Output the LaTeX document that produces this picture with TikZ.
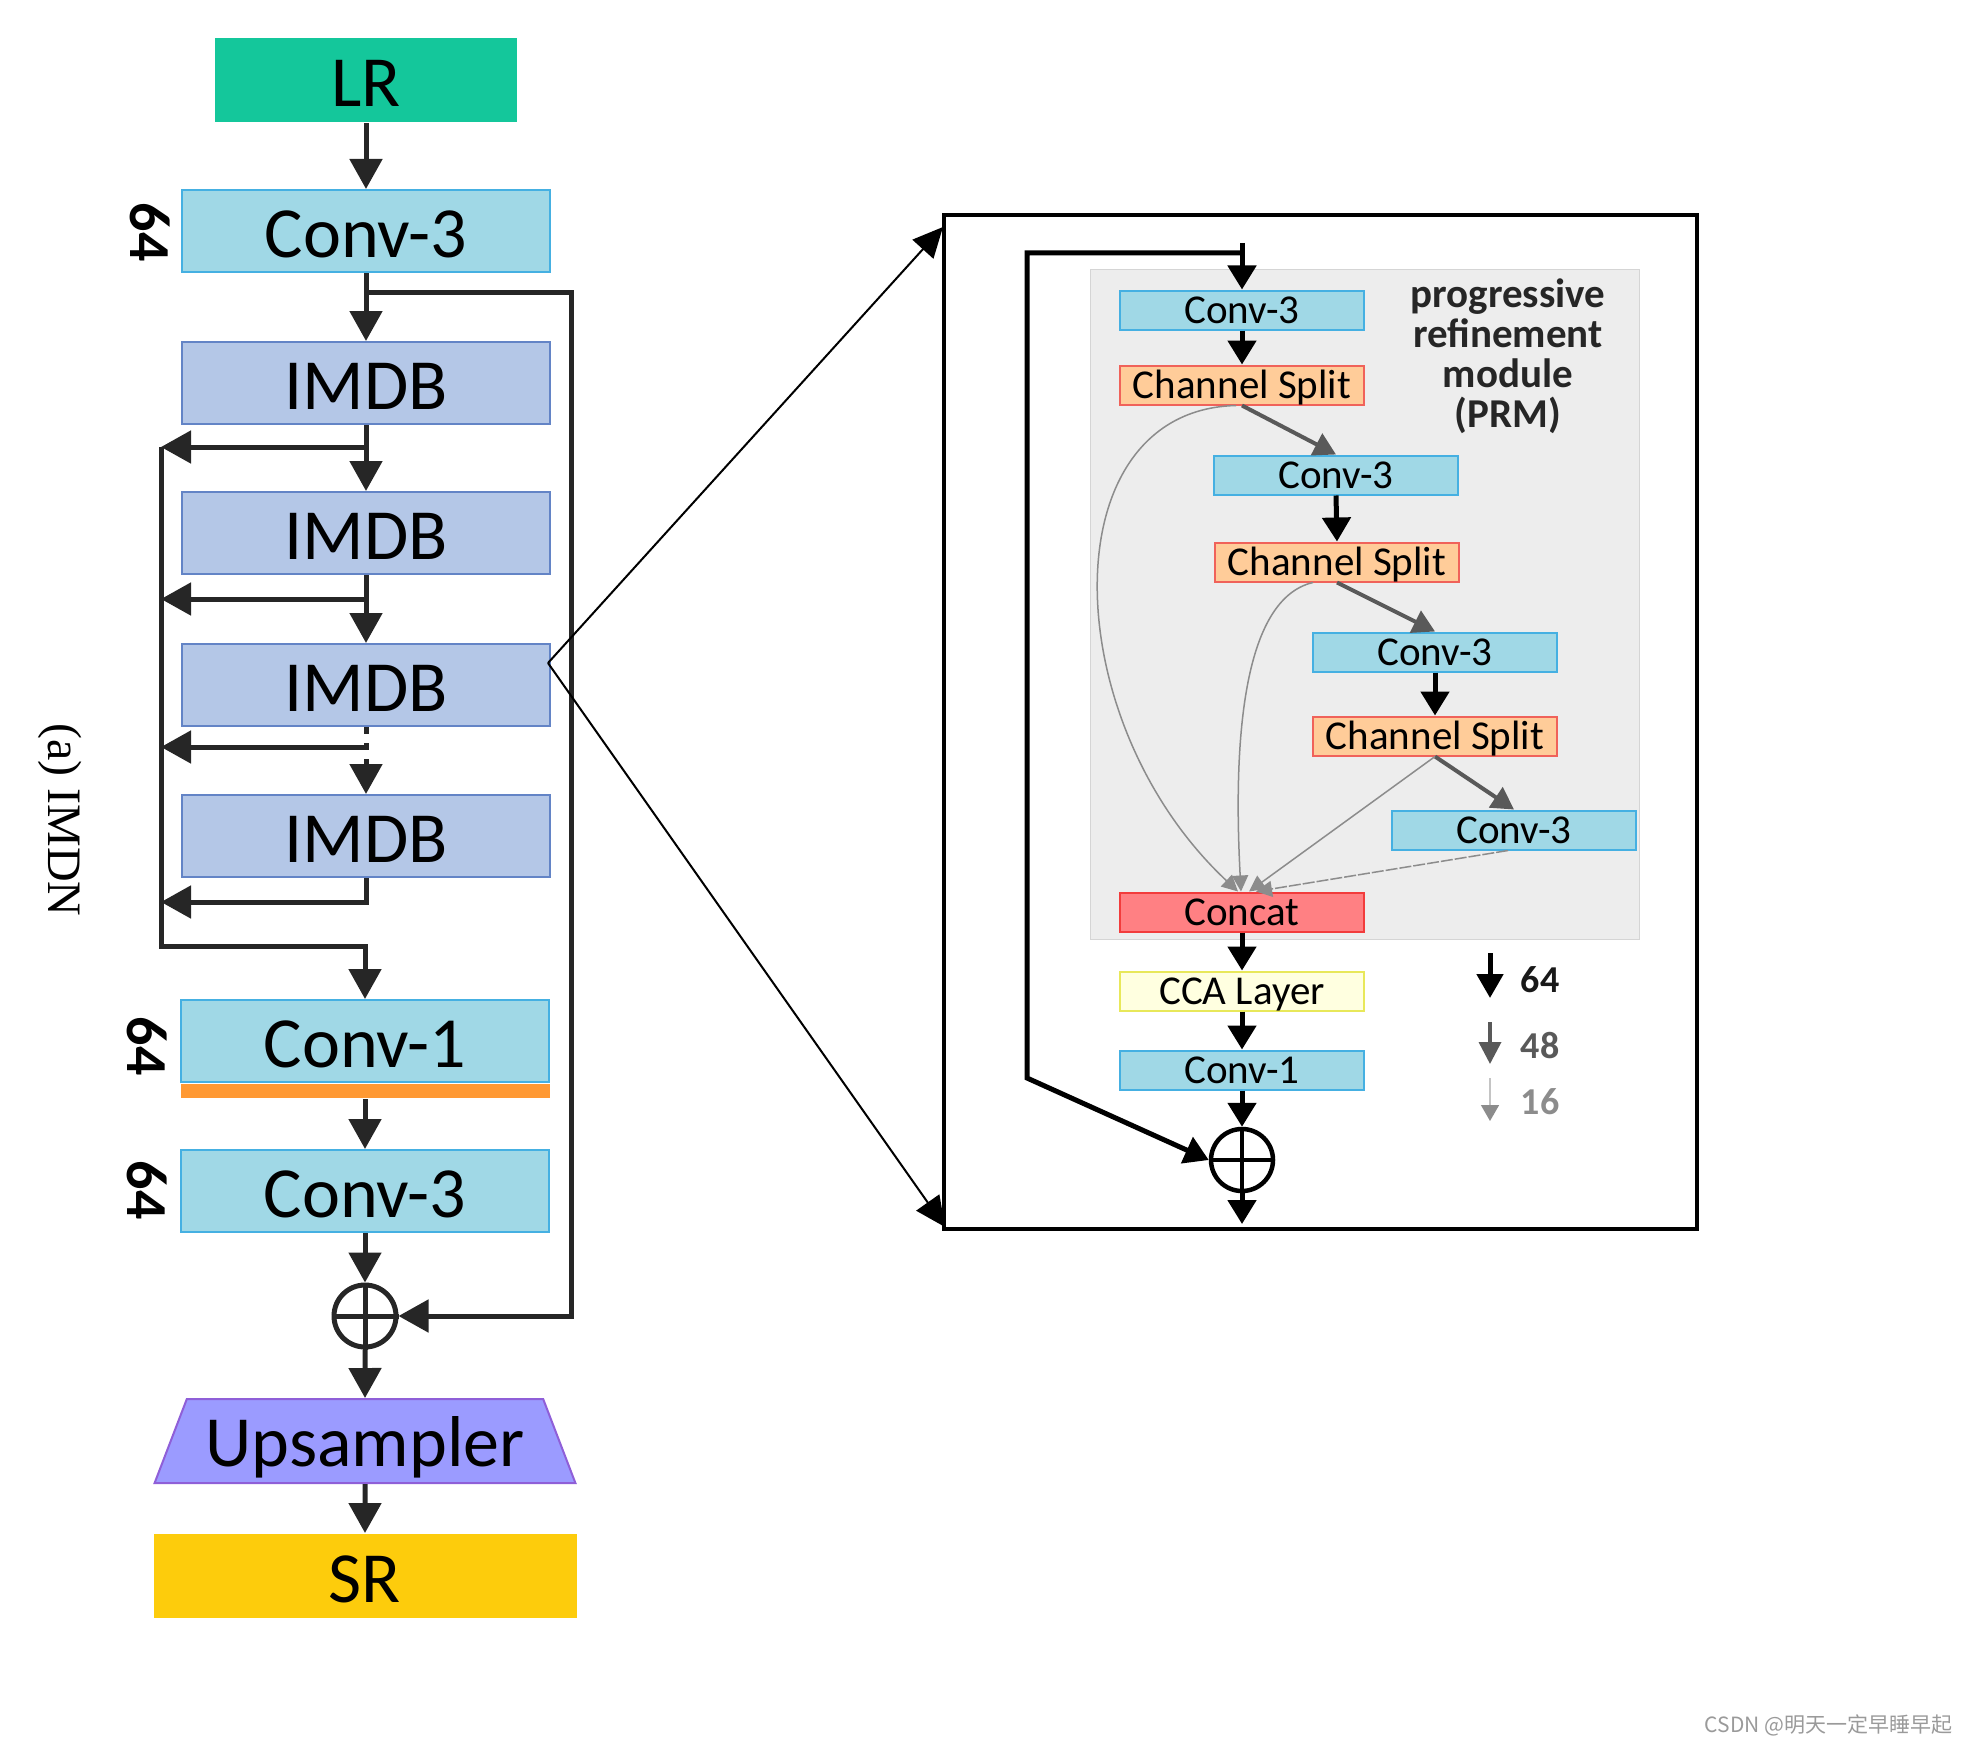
\documentclass[tikz,border=0pt]{standalone}
\usepackage{fontspec}
\setmainfont{Carlito}
\newfontfamily\serifcap{Liberation Serif}
\newfontfamily\cjk{Noto Sans CJK SC}
\usetikzlibrary{positioning,arrows.meta,shapes.geometric}

\definecolor{lrgreen}{HTML}{14C79B}
\definecolor{convfill}{HTML}{A0D8E6}
\definecolor{convdraw}{HTML}{45B0E2}
\definecolor{imdbfill}{HTML}{B4C7E7}
\definecolor{imdbdraw}{HTML}{6384C6}
\definecolor{barorange}{HTML}{FF9933}
\definecolor{upfill}{HTML}{9B9BFF}
\definecolor{updraw}{HTML}{8F5FD8}
\definecolor{srgold}{HTML}{FDCC0C}
\definecolor{splitfill}{HTML}{FFCC99}
\definecolor{splitdraw}{HTML}{F0625A}
\definecolor{concatfill}{HTML}{FF8083}
\definecolor{concatdraw}{HTML}{F23C3C}
\definecolor{ccafill}{HTML}{FFFFE0}
\definecolor{ccadraw}{HTML}{E8E85A}
\definecolor{prmgray}{HTML}{EDEDED}
\definecolor{arrowc}{HTML}{262626}
\definecolor{graydark}{HTML}{595959}
\definecolor{graylight}{HTML}{8C8C8C}
\definecolor{grayfaint}{HTML}{C4C4C4}
\definecolor{wmgray}{HTML}{9A9A9A}

\begin{document}
\begin{tikzpicture}[
    x=1pt, y=-1pt,
    box/.style={rectangle, inner sep=0pt, line width=2pt},
    bigconv/.style={box, fill=convfill, draw=convdraw, minimum width=368pt, minimum height=82pt,
        font=\fontsize{72}{86}\selectfont, text height=53pt, text depth=0pt},
    bigimdb/.style={bigconv, fill=imdbfill, draw=imdbdraw},
    inout/.style={box, minimum height=84pt, font=\fontsize{72}{86}\selectfont, text height=53pt, text depth=0pt},
    chanbar/.style={box, fill=barorange, minimum width=369pt, minimum height=14pt},
    upsamp/.style={trapezium, trapezium angle=60, trapezium stretches=true, inner sep=0pt,
        minimum width=423pt, minimum height=84pt, fill=upfill, draw=updraw, line width=2pt,
        font=\fontsize{72}{86}\selectfont, text height=50pt, text depth=0pt},
    chan/.style={rotate=-90, font=\bfseries\fontsize{58}{70}\selectfont},
    sum/.style={circle, draw=arrowc, line width=5pt, minimum size=62pt, inner sep=0pt},
    flow/.style={draw=arrowc, line width=5pt, -{Triangle[length=30pt,width=32pt]}},
    pointer/.style={draw=black, line width=2pt, -{Triangle[length=30pt,width=28pt]}},
    rconv/.style={box, fill=convfill, draw=convdraw, minimum width=244pt, minimum height=39pt,
        font=\fontsize{41}{48}\selectfont, text height=26pt, text depth=0pt},
    rsplit/.style={rconv, fill=splitfill, draw=splitdraw},
    rconcat/.style={rconv, fill=concatfill, draw=concatdraw},
    rcca/.style={rconv, fill=ccafill, draw=ccadraw},
    rsum/.style={circle, draw=black, line width=4.5pt, minimum size=62pt, inner sep=0pt},
    inflow/.style={draw=black, line width=5pt, -{Triangle[length=24pt,width=28pt]}},
    splitflow/.style={draw=graydark, line width=4pt, -{Triangle[length=22pt,width=24pt]}},
    merge/.style={draw=graylight, line width=1.5pt, -{Triangle[length=16pt,width=16pt]}},
    legtext/.style={font=\bfseries\fontsize{38}{44}\selectfont}
]
    \useasboundingbox (0,0) rectangle (1969,1744);

    % IMDN trunk
    \node[inout, fill=lrgreen, minimum width=302pt] (lr) at (366,80) {LR};
    \node[bigconv] (conv3a) at (366,231) {Conv-3};
    \node[bigimdb] (imdb1) at (366,383) {IMDB};
    \node[bigimdb] (imdb2) at (366,533) {IMDB};
    \node[bigimdb] (imdb3) at (366,685) {IMDB};
    \node[bigimdb] (imdb4) at (366,836) {IMDB};
    \node[bigconv] (conv1b) at (365,1041) {Conv-1};
    \node[chanbar, below=0pt of conv1b] (conv1bar) {};
    \node[bigconv] (conv3b) at (365,1191) {Conv-3};
    \node[sum] (suml) at (365,1316) {};
    \draw[arrowc, line width=5pt] (suml.north) -- (suml.south) (suml.west) -- (suml.east);
    \node[upsamp] (up) at (365,1441) {Upsampler};
    \node[inout, fill=srgold, minimum width=423pt] (sr) at (365,1576) {SR};

    \node[chan] (c64a) at (150,232) {64};
    \node[chan] (c64b) at (147,1046) {64};
    \node[chan] (c64c) at (147,1190) {64};
    \node[rotate=-90, font=\serifcap\fontsize{48}{58}\selectfont] (cap) at (60,820) {(a) IMDN};

    \coordinate (tap1) at (366,447);
    \coordinate (fb1) at (161,447);
    \coordinate (tap2) at (366,599);
    \coordinate (fb2) at (161,599);
    \coordinate (tap3) at (366,747);
    \coordinate (fb3) at (161,747);
    \coordinate (fb4) at (161,902);
    \coordinate (fbbot) at (161,946);
    \coordinate (skiptap) at (366,292);
    \coordinate (skipc) at (571,292);

    \draw[flow] (lr.south) -- (conv3a.north);
    \draw[flow] (conv3a.south) -- (imdb1.north);
    \draw[flow] (imdb1.south) -- (imdb2.north);
    \draw[flow] (imdb2.south) -- (imdb3.north);
    \draw[flow, dash pattern=on 7pt off 9pt] (imdb3.south) -- (imdb4.north);
    \draw[flow] (tap1) -- (fb1);
    \draw[flow] (tap2) -- (fb2);
    \draw[flow] (tap3) -- (fb3);
    \draw[flow] (imdb4.south) |- (fb4);
    \draw[flow] (fb1) -- (fbbot) -| (conv1b.north);
    \draw[flow] (conv1bar.south) -- (conv3b.north);
    \draw[flow] (conv3b.south) -- (suml.north);
    \draw[flow] (skiptap) -- (skipc) |- (suml.east);
    \draw[flow] (suml.south) -- (up.north);
    \draw[flow] (up.south) -- (sr.north);

    % zoom on one IMDB
    \node[draw=black, line width=4.5pt, minimum width=753pt, minimum height=1014pt] (zoombox) at (1320.5,722) {};
    \coordinate (zsrc) at (548,663);
    \coordinate (ztop) at (943,227);
    \coordinate (zbot) at (945,1227);
    \draw[pointer] (zsrc) -- (ztop);
    \draw[pointer] (zsrc) -- (zbot);

    \node[fill=prmgray, draw=prmgray!90!black, line width=0.8pt, minimum width=549pt, minimum height=670pt] (prm) at (1364.5,604) {};
    \node[rconv] (rconva) at (1242,310) {Conv-3};
    \node[rsplit] (rsplita) at (1242,385) {Channel Split};
    \node[rconv] (rconvb) at (1336,475) {Conv-3};
    \node[rsplit] (rsplitb) at (1337,562) {Channel Split};
    \node[rconv] (rconvc) at (1435,652) {Conv-3};
    \node[rsplit] (rsplitc) at (1435,736) {Channel Split};
    \node[rconv] (rconvd) at (1514,830) {Conv-3};
    \node[rconcat] (rconcat) at (1242,912) {Concat};
    \node[rcca] (rcca) at (1242,991) {CCA Layer};
    \node[rconv] (rconve) at (1242,1070) {Conv-1};
    \node[rsum] (rsum) at (1242,1160) {};
    \draw[black, line width=4.5pt] (rsum.north) -- (rsum.south) (rsum.west) -- (rsum.east);
    \node[align=center, text=black!85, font=\bfseries\fontsize{41}{40}\selectfont] (prmlabel) at (1508,356)
        {progressive\\refinement\\module\\(PRM)};

    \coordinate (rin) at (1242,243);
    \coordinate (rjoin) at (1242,253);
    \coordinate (rloopt) at (1027,253);
    \coordinate (rloopb) at (1027,1078);
    \coordinate (rout) at (1242,1224);

    \draw[inflow] (rin) -- (rconva.north);
    \draw[inflow] (rjoin) -- (rloopt) -- (rloopb) -- (rsum.west);
    \draw[inflow] (rconva.south) -- (rsplita.north);
    \draw[splitflow] (rsplita.south) -- (rconvb.north);
    \draw[inflow] (rconvb.south) -- (rsplitb.north);
    \draw[splitflow] (rsplitb.south) -- (rconvc.north);
    \draw[inflow] (rconvc.south) -- (rsplitc.north);
    \draw[splitflow] (rsplitc.south) -- (rconvd.north);
    \draw[merge] ([xshift=-6pt]rsplita.south) .. controls (1050,410) and (1055,720) .. ([xshift=-4pt]rconcat.north);
    \draw[merge] ([xshift=-24pt]rsplitb.south) .. controls (1238,600) and (1234,760) .. ([xshift=-1pt]rconcat.north);
    \draw[merge] (rsplitc.south) -- ([xshift=7pt]rconcat.north);
    \draw[merge, dash pattern=on 12pt off 2pt] ([xshift=-6pt]rconvd.south) -- ([xshift=14pt]rconcat.north);
    \draw[inflow] (rconcat.south) -- (rcca.north);
    \draw[inflow] (rcca.south) -- (rconve.north);
    \draw[inflow] (rconve.south) -- (rsum.north);
    \draw[inflow] (rsum.south) -- (rout);

    % channel legend
    \node[legtext, text=black!90] (k64) at (1540,980) {64};
    \node[legtext, text=graydark] (k48) at (1540,1046) {48};
    \node[legtext, text=graylight] (k16) at (1540,1102) {16};
    \coordinate (a64s) at (1490,953);
    \coordinate (a64e) at (1490,998);
    \coordinate (a48s) at (1490,1022);
    \coordinate (a48e) at (1490,1064);
    \coordinate (a16s) at (1490,1078);
    \coordinate (a16e) at (1490,1121);
    \draw[black, line width=5pt, -{Triangle[length=24pt,width=26pt]}] (a64s) -- (a64e);
    \draw[graydark, line width=3.5pt, -{Triangle[length=22pt,width=22pt]}] (a48s) -- (a48e);
    \draw[grayfaint, line width=1.5pt, -{Triangle[length=16pt,width=18pt,color=graylight]}] (a16s) -- (a16e);

    \node[anchor=east, text=wmgray, font=\cjk\fontsize{21}{25}\selectfont] (wm) at (1956,1725) {CSDN @明天一定早睡早起};
\end{tikzpicture}
\end{document}
